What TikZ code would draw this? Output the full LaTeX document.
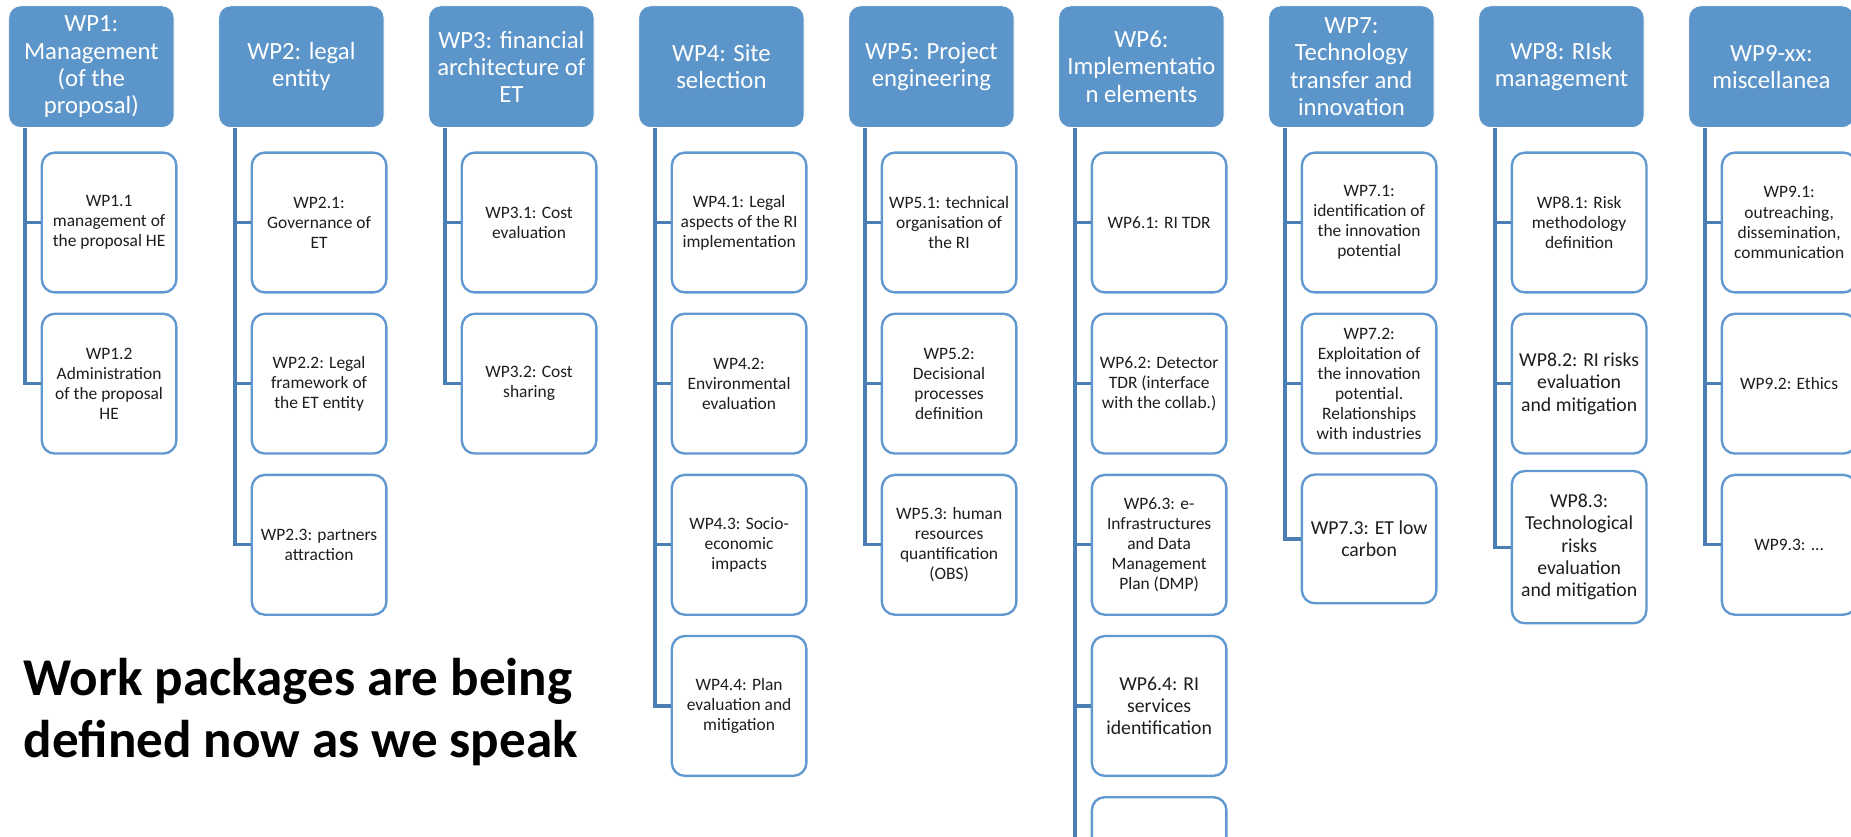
\documentclass[tikz,border=0pt]{standalone}
\usepackage{fontspec}
\setmainfont{Carlito}
\usepackage{tikz}
\definecolor{wpfill}{RGB}{91,149,202}
\definecolor{wpedge}{RGB}{96,152,207}
\definecolor{wpline}{RGB}{74,126,180}
\definecolor{wptext}{RGB}{30,30,30}
\tikzset{
wphead/.style={rectangle, rounded corners=2.5mm, fill=wpfill, draw=white, line width=0.4pt,
  minimum width=35mm, minimum height=25.75mm, inner sep=0pt, align=center, text=white,
  font=\fontsize{14.9}{16.4}\selectfont},
wptask/.style={rectangle, rounded corners=2.75mm, fill=white, draw=wpedge, line width=0.5mm,
  minimum width=28.5mm, minimum height=29.6mm, inner sep=0pt, align=center, text=wptext,
  font=\fontsize{10.5}{12.1}\selectfont},
wpbig/.style={wptask, font=\fontsize{11.9}{13.4}\selectfont},
wplink/.style={draw=wpline, line width=0.68mm}}

\begin{document}
\begin{tikzpicture}[x=0.25mm, y=-0.25mm]

                \useasboundingbox (0,0) rectangle (1568,709);
                \clip (0,0) rectangle (1568,709);

                % headers
                \node[wphead] (h1) at (77.4,56.5) {WP1:\\Management\\(of the\\proposal)};
                \node[wphead] (h2) at (255.3,56.5) {WP2: legal\\entity};
                \node[wphead] (h3) at (433.2,56.5) {WP3: financial\\architecture of\\ET};
                \node[wphead] (h4) at (611.1,56.5) {WP4: Site\\selection};
                \node[wphead] (h5) at (789.0,56.5) {WP5: Project\\engineering};
                \node[wphead] (h6) at (966.9,56.5) {WP6:\\Implementatio\\n elements};
                \node[wphead] (h7) at (1144.8,56.5) {WP7:\\Technology\\transfer and\\innovation};
                \node[wphead] (h8) at (1322.7,56.5) {WP8: RIsk\\management};
                \node[wphead] (h9) at (1500.6,56.5) {WP9-xx:\\miscellanea};

                % tasks
                \node[wptask] (s11) at (92.4,188.5) {WP1.1\\management of\\the proposal HE};
                \node[wptask] (s12) at (92.4,325) {WP1.2\\Administration\\of the proposal\\HE};

                \node[wptask] (s21) at (270.3,188.5) {WP2.1:\\Governance of\\ET};
                \node[wptask] (s22) at (270.3,325) {WP2.2: Legal\\framework of\\the ET entity};
                \node[wptask] (s23) at (270.3,461.5) {WP2.3: partners\\attraction};

                \node[wptask] (s31) at (448.2,188.5) {WP3.1: Cost\\evaluation};
                \node[wptask] (s32) at (448.2,325) {WP3.2: Cost\\sharing};

                \node[wptask] (s41) at (626.1,188.5) {WP4.1: Legal\\aspects of the RI\\implementation};
                \node[wptask] (s42) at (626.1,325) {WP4.2:\\Environmental\\evaluation};
                \node[wptask] (s43) at (626.1,461.5) {WP4.3: Socio-\\economic\\impacts};
                \node[wptask] (s44) at (626.1,598) {WP4.4: Plan\\evaluation and\\mitigation};

                \node[wptask] (s51) at (804.0,188.5) {WP5.1: technical\\organisation of\\the RI};
                \node[wptask] (s52) at (804.0,325) {WP5.2:\\Decisional\\processes\\definition};
                \node[wptask] (s53) at (804.0,461.5) {WP5.3: human\\resources\\quantification\\(OBS)};

                \node[wptask] (s61) at (981.9,188.5) {WP6.1: RI TDR};
                \node[wptask] (s62) at (981.9,325) {WP6.2: Detector\\TDR (interface\\with the collab.)};
                \node[wptask] (s63) at (981.9,461.5) {WP6.3: e-\\Infrastructures\\and Data\\Management\\Plan (DMP)};
                \node[wpbig] (s64) at (981.9,598) {WP6.4: RI\\services\\identification};
                \node[wptask] (s65) at (981.9,734.5) {};

                \node[wptask] (s71) at (1159.8,188.5) {WP7.1:\\identification of\\the innovation\\potential};
                \node[wptask] (s72) at (1159.8,325) {WP7.2:\\Exploitation of\\the innovation\\potential.\\Relationships\\with industries};
                \node[wpbig, minimum height=27.25mm] (s73) at (1159.8,456.5) {WP7.3: ET low\\carbon};

                \node[wptask] (s81) at (1337.7,188.5) {WP8.1: Risk\\methodology\\definition};
                \node[wpbig] (s82) at (1337.7,325) {WP8.2: RI risks\\evaluation\\and mitigation};
                \node[wpbig, minimum height=32.25mm] (s83) at (1337.7,463.5) {WP8.3:\\Technological\\risks\\evaluation\\and mitigation};

                \node[wptask] (s91) at (1515.6,188.5) {WP9.1:\\outreaching,\\dissemination,\\communication};
                \node[wptask] (s92) at (1515.6,325) {WP9.2: Ethics};
                \node[wptask] (s93) at (1515.6,461.5) {WP9.3: ...};

                % trunks
                \draw[wplink] (h1.south west) ++(14,0) |- (s11.west);
                \draw[wplink] (h1.south west) ++(14,0) |- (s12.west);
                \draw[wplink] (h2.south west) ++(14,0) |- (s21.west);
                \draw[wplink] (h2.south west) ++(14,0) |- (s22.west);
                \draw[wplink] (h2.south west) ++(14,0) |- (s23.west);
                \draw[wplink] (h3.south west) ++(14,0) |- (s31.west);
                \draw[wplink] (h3.south west) ++(14,0) |- (s32.west);
                \draw[wplink] (h4.south west) ++(14,0) |- (s41.west);
                \draw[wplink] (h4.south west) ++(14,0) |- (s42.west);
                \draw[wplink] (h4.south west) ++(14,0) |- (s43.west);
                \draw[wplink] (h4.south west) ++(14,0) |- (s44.west);
                \draw[wplink] (h5.south west) ++(14,0) |- (s51.west);
                \draw[wplink] (h5.south west) ++(14,0) |- (s52.west);
                \draw[wplink] (h5.south west) ++(14,0) |- (s53.west);
                \draw[wplink] (h6.south west) ++(14,0) |- (s61.west);
                \draw[wplink] (h6.south west) ++(14,0) |- (s62.west);
                \draw[wplink] (h6.south west) ++(14,0) |- (s63.west);
                \draw[wplink] (h6.south west) ++(14,0) |- (s64.west);
                \draw[wplink] (h6.south west) ++(14,0) |- (s65.west);
                \draw[wplink] (h7.south west) ++(14,0) |- (s71.west);
                \draw[wplink] (h7.south west) ++(14,0) |- (s72.west);
                \draw[wplink] (h7.south west) ++(14,0) |- (s73.west);
                \draw[wplink] (h8.south west) ++(14,0) |- (s81.west);
                \draw[wplink] (h8.south west) ++(14,0) |- (s82.west);
                \draw[wplink] (h8.south west) ++(14,0) |- (s83.west);
                \draw[wplink] (h9.south west) ++(14,0) |- (s91.west);
                \draw[wplink] (h9.south west) ++(14,0) |- (s92.west);
                \draw[wplink] (h9.south west) ++(14,0) |- (s93.west);

                % note
                \node[anchor=base west, inner sep=0pt, font=\bfseries\fontsize{32}{38}\selectfont] (note1) at (20,589) {Work packages are being};
                \node[anchor=base west, inner sep=0pt, font=\bfseries\fontsize{32}{38}\selectfont] (note2) at (20,642) {defined now as we speak};

            \end{tikzpicture}
\end{document}
